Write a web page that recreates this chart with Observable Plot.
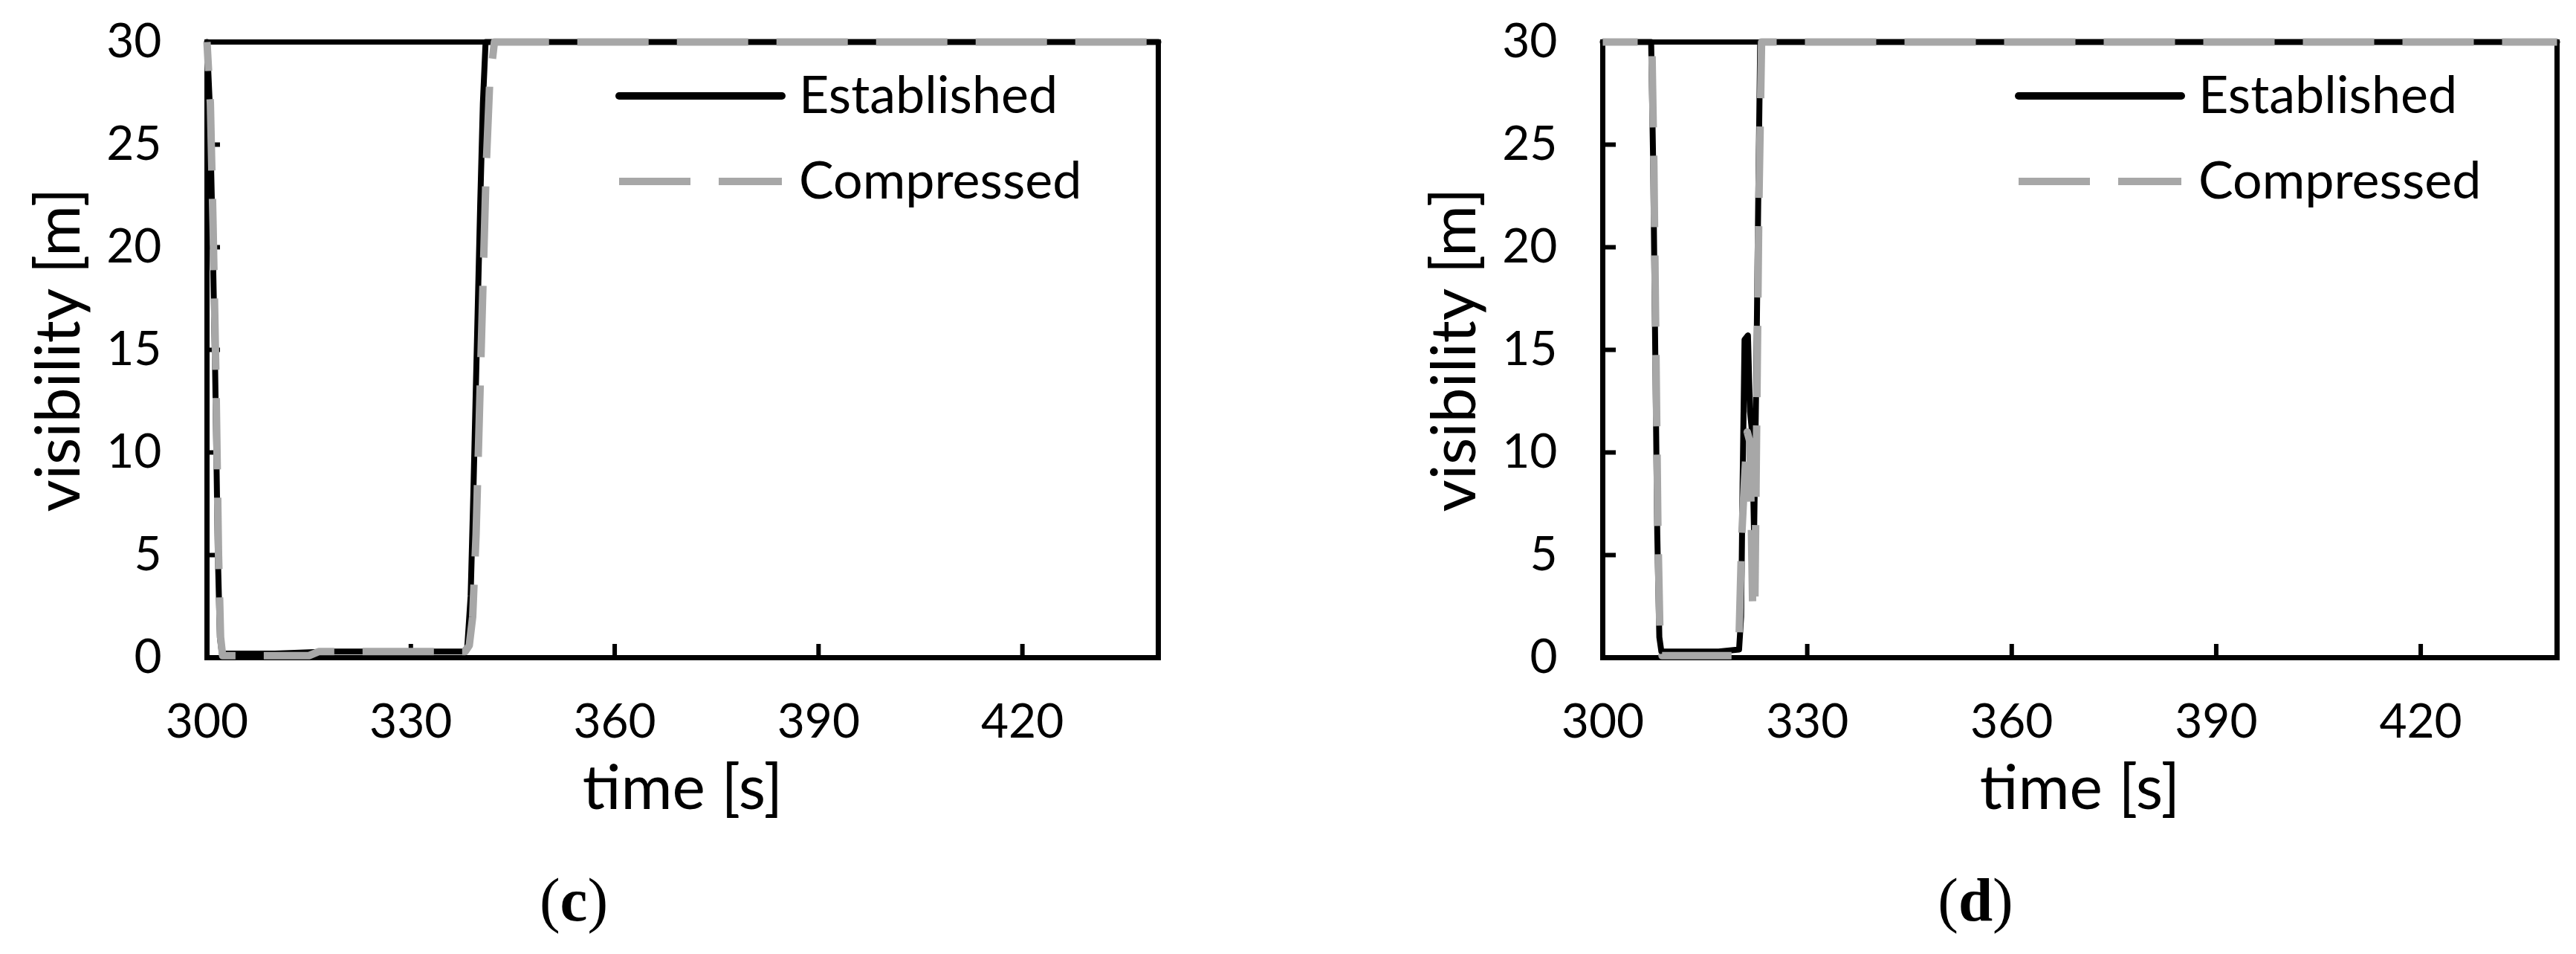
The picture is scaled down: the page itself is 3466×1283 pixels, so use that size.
<!DOCTYPE html>
<html>
<head>
<meta charset="utf-8">
<script src="https://cdn.jsdelivr.net/npm/d3@7"></script>
<script src="https://cdn.jsdelivr.net/npm/@observablehq/plot@0.6"></script>
<style>
  body { margin: 0; background: #fff; }
  #wrap { position: relative; width: 3466px; height: 1283px; overflow: hidden; background: #fff; }
  .panel { position: absolute; top: 0; }
  #overlay { position: absolute; left: 0; top: 0; }
</style>
</head>
<body>
<div id="wrap"></div>
<script>
// ---------- data ----------
const xTicks = [300, 330, 360, 390, 420];
const yTicks = [0, 5, 10, 15, 20, 25, 30];
const seriesNames = ["Established", "Compressed"];
const xTitle = "time [s]";
const yTitle = "visibility [m]";
const panelLetters = ["c", "d"];

// panel (c)
const timeEstC = [300, 300.4, 300.8, 301.2, 301.6, 301.9, 302.2, 310, 318, 325, 337.8, 338.3, 338.8, 339.2, 339.7, 340.2, 340.6, 341, 440];
const visEstC  = [30, 27, 21, 14, 5, 1, 0.2, 0.2, 0.3, 0.3, 0.3, 0.5, 3, 8, 15, 22, 27, 30, 30];
const timeCompC = [300, 300.5, 300.9, 301.3, 301.7, 302, 302.3, 315, 316.5, 325, 338, 338.6, 339.1, 339.6, 340.1, 340.6, 341.1, 341.6, 342.3, 440];
const visCompC  = [30, 27, 21, 14, 5, 1, 0.1, 0.1, 0.3, 0.3, 0.3, 0.6, 2, 6, 12, 18, 24, 28, 30, 30];

// panel (d)
const timeEstD = [300, 307.1, 307.4, 307.7, 308, 308.3, 308.6, 317, 320, 320.3, 320.5, 320.8, 321.3, 321.6, 321.9, 322.2, 322.5, 322.8, 323.1, 440];
const visEstD  = [30, 30, 24, 15, 6, 1, 0.3, 0.3, 0.4, 2, 8, 15.5, 15.7, 12, 11, 6, 13, 22, 30, 30];
const timeCompD = [300, 307.2, 307.5, 307.8, 308.1, 308.4, 308.7, 319.6, 320, 320.4, 320.8, 321.2, 321.6, 322, 322.3, 322.6, 322.9, 323.3, 440];
const visCompD  = [30, 30, 24, 15, 6, 1, 0.1, 0.1, 1, 6, 8.7, 11, 10.5, 2.3, 2.2, 12, 22, 30, 30];

// ---------- layout / style ----------
const W = 3466, H = 1283, PW = 1733;
const FONT = "Lato, 'Open Sans', sans-serif";
const GRAY = "#a7a7a7";
const DASH = "96,38";

const toRows = (t, v) => t.map((d, i) => ({t: d, v: v[i]}));

const panels = [
  {left: 0, mLeft: 278, mRight: 175, est: toRows(timeEstC, visEstC), comp: toRows(timeCompC, visCompC), dashOff: 57,
   legendX: 833, captionX: 772, letter: panelLetters[0]},
  {left: PW, mLeft: 423, mRight: 26, est: toRows(timeEstD, visEstD), comp: toRows(timeCompD, visCompD), dashOff: 49,
   legendX: 2716, captionX: 2658, letter: panelLetters[1]}
];

const wrap = document.getElementById("wrap");
const mTop = 56, mBottom = 399;
const frameH = H - mTop - mBottom;
const tickLen = 18;

for (const p of panels) {
  const frameW = PW - p.mLeft - p.mRight;
  const chart = Plot.plot({
    width: PW, height: H,
    marginLeft: p.mLeft, marginRight: p.mRight, marginTop: mTop, marginBottom: mBottom,
    x: {domain: [300, 440]},
    y: {domain: [0, 30]},
    style: {fontFamily: FONT, color: "black", background: "white", overflow: "visible"},
    marks: [
      Plot.frame({stroke: "black", strokeWidth: 7}),
      // inward tick marks (bottom and left edges)
      Plot.ruleX(xTicks.slice(1), {y1: 30, y2: 0, insetTop: frameH - tickLen, stroke: "black", strokeWidth: 6}),
      Plot.ruleY(yTicks.slice(1, -1), {x1: 300, x2: 440, insetRight: frameW - tickLen, stroke: "black", strokeWidth: 6}),
      Plot.axisX(xTicks, {tickSize: 0, tickPadding: 62, fontSize: 64, label: null}),
      Plot.axisY(yTicks, {tickSize: 0, tickPadding: 61, fontSize: 64, label: null}),
      Plot.text([xTitle], {frameAnchor: "bottom", dy: 177, fontSize: 84, textAnchor: "middle", lineAnchor: "middle"}),
      Plot.text([yTitle], {frameAnchor: "left", dx: -198, rotate: -90, fontSize: 84, textAnchor: "middle", lineAnchor: "middle"}),
      Plot.line(p.est, {x: "t", y: "v", stroke: "black", strokeWidth: 8, strokeLinejoin: "round"}),
      Plot.line(p.comp, {x: "t", y: "v", stroke: GRAY, strokeWidth: 10, strokeDasharray: DASH,
                         strokeDashoffset: p.dashOff, strokeLinecap: "butt", strokeLinejoin: "round"})
    ]
  });
  chart.classList.add("panel");
  chart.style.left = p.left + "px";
  wrap.appendChild(chart);
}

// ---------- legends and captions ----------
const ov = d3.select(wrap).append("svg").attr("id", "overlay").attr("width", W).attr("height", H);
const legendRows = [
  {name: seriesNames[0], y: 129, stroke: "black", dash: null},
  {name: seriesNames[1], y: 244, stroke: GRAY, dash: DASH}
];
for (const p of panels) {
  for (const r of legendRows) {
    ov.append("line")
      .attr("x1", p.legendX).attr("x2", p.legendX + 219)
      .attr("y1", r.y).attr("y2", r.y)
      .attr("stroke", r.stroke).attr("stroke-width", 10)
      .attr("stroke-dasharray", r.dash)
      .attr("stroke-linecap", r.dash ? "butt" : "round");
    ov.append("text")
      .attr("x", p.legendX + 242).attr("y", r.y + 23)
      .attr("font-family", FONT).attr("font-size", 70).attr("fill", "black")
      .text(r.name);
  }
  const cap = ov.append("text")
    .attr("x", p.captionX).attr("y", 1238)
    .attr("text-anchor", "middle")
    .attr("font-family", "'Liberation Serif', 'Times New Roman', serif")
    .attr("font-size", 83).attr("fill", "black");
  cap.append("tspan").text("(");
  cap.append("tspan").attr("font-weight", "bold").text(p.letter);
  cap.append("tspan").text(")");
}
</script>
</body>
</html>
